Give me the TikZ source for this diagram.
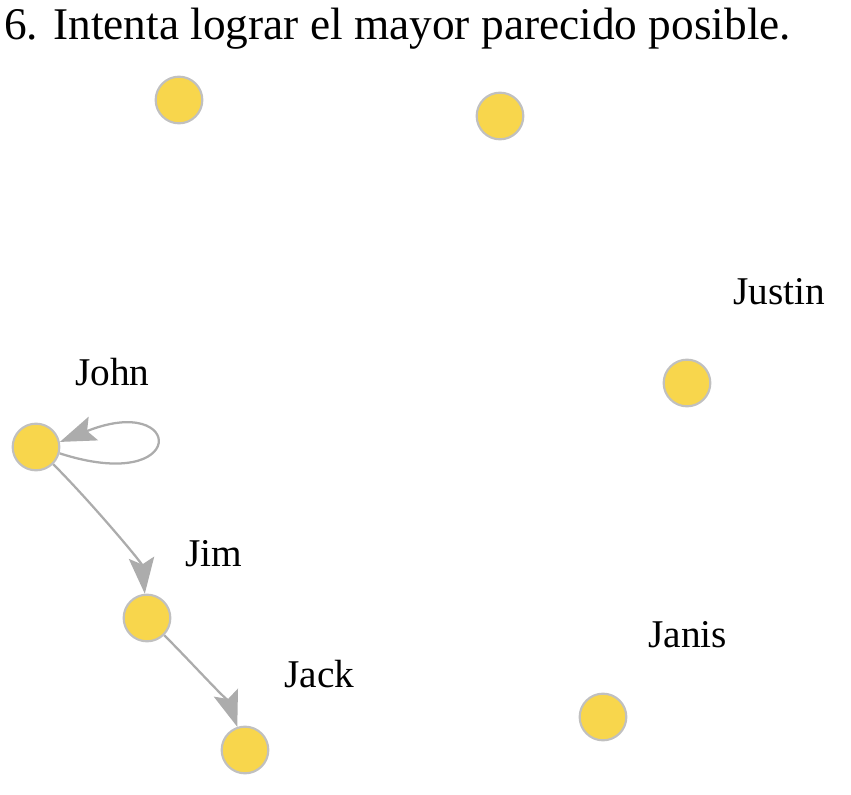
\documentclass[tikz,border=0pt]{standalone}
\usepackage{fontspec}
\setmainfont{Liberation Serif}
\usetikzlibrary{arrows.meta,positioning}
\definecolor{nodeyellow}{RGB}{248,214,76}
\definecolor{nodeborder}{RGB}{192,192,192}
\definecolor{edgegray}{RGB}{172,172,172}

\begin{document}
\begin{tikzpicture}[
        x=0.75pt, y=-0.75pt,
        vertex/.style={circle, draw=nodeborder, line width=1.6pt, fill=nodeyellow, minimum size=35pt, inner sep=0pt},
        namelabel/.style={anchor=base west, inner sep=0pt, font=\fontsize{29.5}{34}\selectfont},
        edge/.style={draw=edgegray, line width=1.7pt, -{Stealth[length=27pt,width=19pt,inset=5pt]}}
    ]
  \useasboundingbox (0,0) rectangle (851,795);

  % Title
  \node (title) [anchor=base west, inner sep=0pt, font=\fontsize{34}{40}\selectfont] at (4,40) {6. Intenta lograr el mayor parecido posible.};

  % Nodes
  \node (top1) [vertex] at (179,100) {};
  \node (top2) [vertex] at (500,116) {};
  \node (justin) [vertex] at (687,383) {};
  \node (john) [vertex] at (36,447) {};
  \node (jim) [vertex] at (147,618) {};
  \node (jack) [vertex] at (245,750) {};
  \node (janis) [vertex] at (603,717) {};

  % Labels
  \node (justinlabel) [namelabel] at (733,305) {Justin};
  \node (johnlabel) [namelabel] at (75,386) {John};
  \node (jimlabel) [namelabel] at (185,566) {Jim};
  \node (jacklabel) [namelabel] at (284,687) {Jack};
  \node (janislabel) [namelabel] at (648,647) {Janis};

  % Edges
  \draw[edge] (john) .. controls +(55,55) and +(-5,-55) .. (jim);
  \draw[edge] (jim) .. controls +(45,45) and +(-15,-45) .. (jack);
  \draw[edge] (john.-15) .. controls +(130,42) and +(125,-50) .. (john.12);
\end{tikzpicture}
\end{document}
